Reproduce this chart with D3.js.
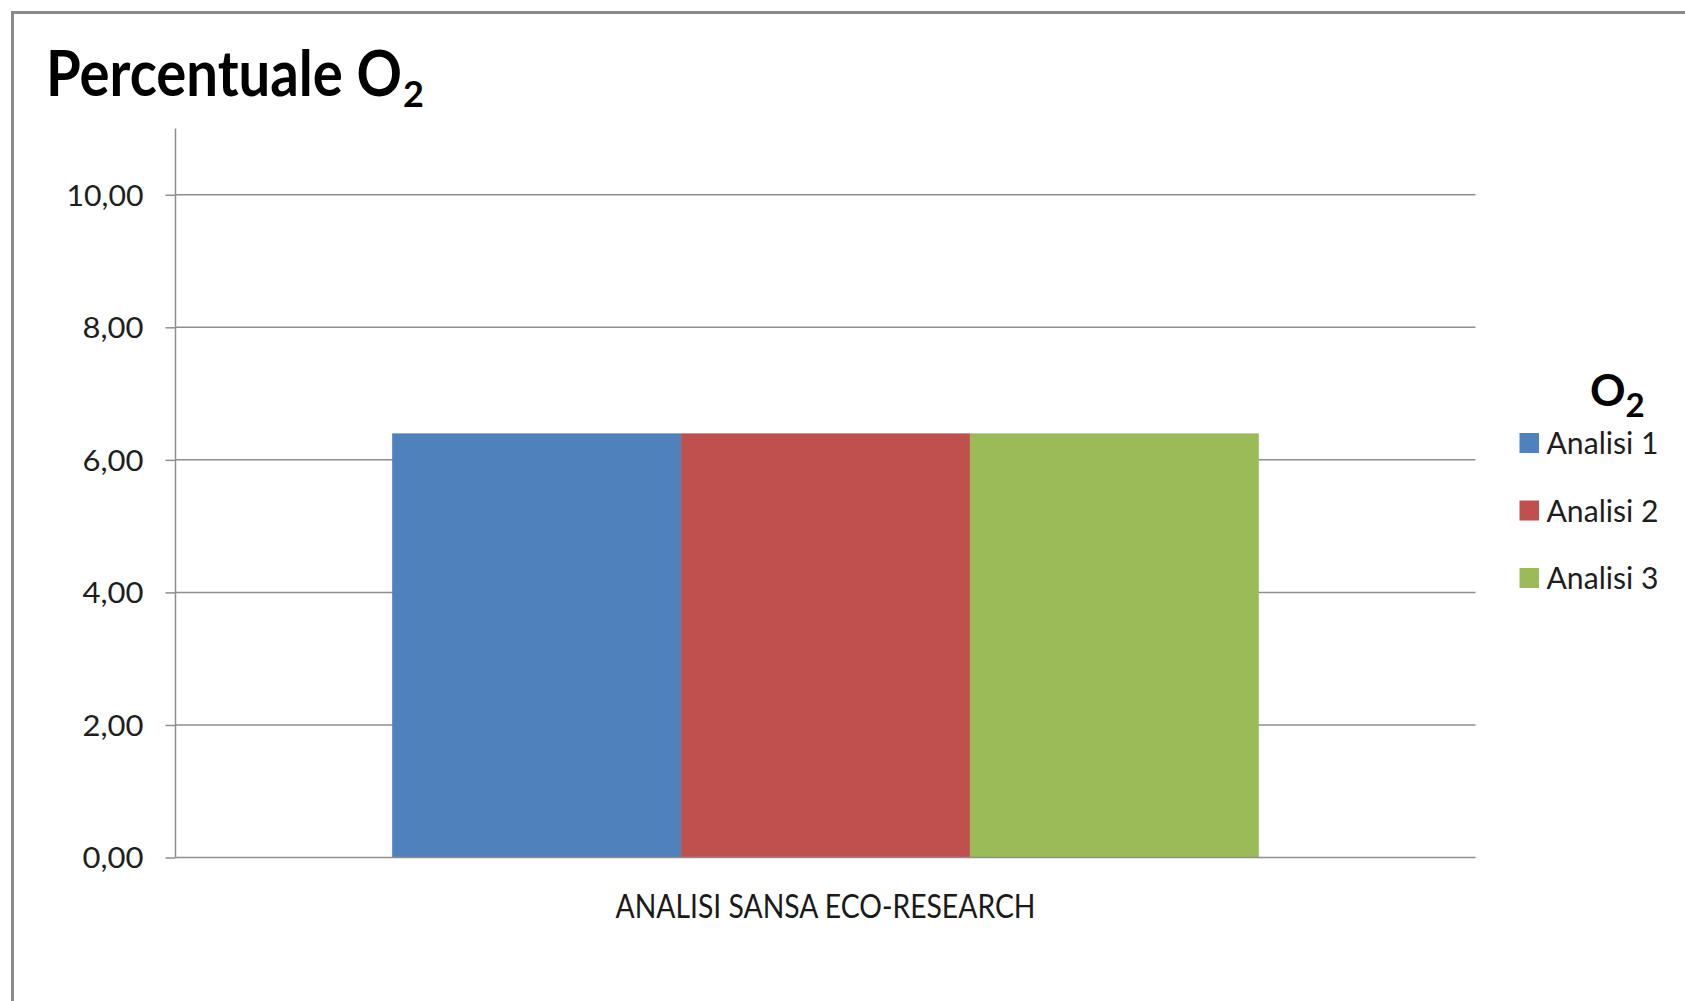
<!DOCTYPE html>
<html>
<head>
<meta charset="utf-8">
<script src="https://cdn.jsdelivr.net/npm/d3@7"></script>
<style>
  html, body { margin: 0; padding: 0; background: #fff; }
  svg { display: block; }
  text { font-family: Lato, "Open Sans", sans-serif; }
</style>
</head>
<body>
<div id="chart"></div>
<script>
// Chart data
const categories = ["ANALISI SANSA ECO-RESEARCH"];
const seriesNames = ["Analisi 1", "Analisi 2", "Analisi 3"];
const seriesValues = [6.40, 6.40, 6.40];
const seriesColors = ["#4F81BD", "#C0504D", "#9BBB59"];
const yTicks = [0, 2, 4, 6, 8, 10];
const yMax = 11;

const W = 1685, H = 1001;
const plot = { left: 175.5, right: 1475.5, top: 128.5, bottom: 857.5 };

const svg = d3.select("#chart").append("svg")
  .attr("width", W).attr("height", H);

// Chart area frame (only the top and left edges fall inside the view)
svg.append("rect")
  .attr("x", 12.5).attr("y", 12.5)
  .attr("width", W + 20).attr("height", H + 20)
  .attr("fill", "#fff").attr("stroke", "#8a8a8a").attr("stroke-width", 3);

const itLocale = d3.formatLocale({ decimal: ",", thousands: ".", grouping: [3], currency: ["", " €"] });
const fmt = itLocale.format(".2f");

const y = d3.scaleLinear().domain([0, yMax]).range([plot.bottom, plot.top]);
const x0 = d3.scaleBand().domain(categories)
  .range([plot.left, plot.right]).paddingInner(0).paddingOuter(0.25);
const x1 = d3.scaleBand().domain(seriesNames).range([0, x0.bandwidth()]).padding(0);

// Horizontal gridlines
svg.append("g").selectAll("line").data(yTicks.filter(d => d > 0)).join("line")
  .attr("x1", plot.left).attr("x2", plot.right)
  .attr("y1", d => y(d)).attr("y2", d => y(d))
  .attr("stroke", "#8e8e8e").attr("stroke-width", 1.5);

// Bars
const g = svg.append("g");
categories.forEach(cat => {
  g.selectAll(null).data(seriesNames.map((s, i) => ({ s, v: seriesValues[i], c: seriesColors[i] })))
    .join("rect")
    .attr("x", d => x0(cat) + x1(d.s))
    .attr("y", d => y(d.v))
    .attr("width", x1.bandwidth())
    .attr("height", d => y(0) - y(d.v))
    .attr("fill", d => d.c);
});

// Value axis
const yAxis = d3.axisLeft(y).tickValues(yTicks).tickSize(10).tickPadding(22).tickFormat(fmt);
const ya = svg.append("g").attr("transform", `translate(${plot.left},0)`).call(yAxis);
ya.select(".domain").remove();
ya.selectAll(".tick line").attr("stroke", "#8e8e8e").attr("stroke-width", 1.5);
ya.selectAll(".tick text")
  .attr("font-family", "Lato, sans-serif").attr("font-size", 29)
  .attr("fill", "#1e1e1e").attr("dy", "0.36em")
  .attr("textLength", d => fmt(d).length === 5 ? 77 : 61)
  .attr("lengthAdjust", "spacingAndGlyphs");
svg.append("line")
  .attr("x1", plot.left).attr("x2", plot.left)
  .attr("y1", y(yMax)).attr("y2", y(0))
  .attr("stroke", "#8e8e8e").attr("stroke-width", 1.5);
svg.append("line")
  .attr("x1", plot.left).attr("x2", plot.right)
  .attr("y1", y(0)).attr("y2", y(0))
  .attr("stroke", "#8e8e8e").attr("stroke-width", 1.5);

// Category axis label
svg.append("g").selectAll("text").data(categories).join("text")
  .attr("x", d => x0(d) + x0.bandwidth() / 2)
  .attr("y", 918)
  .attr("text-anchor", "middle")
  .attr("font-size", 32).attr("font-weight", 400).attr("fill", "#1a1a1a")
  .attr("textLength", 420).attr("lengthAdjust", "spacingAndGlyphs")
  .text(d => d);

// Title
const title = svg.append("text").attr("x", 46).attr("y", 96)
  .attr("font-weight", 700).attr("fill", "#000");
title.append("tspan").attr("font-size", 64)
  .attr("textLength", 356).attr("lengthAdjust", "spacingAndGlyphs")
  .text("Percentuale O");
title.append("tspan").attr("font-size", 36).attr("dx", 1).attr("dy", 11).text("2");

// Legend
const legend = svg.append("g");
const lt = legend.append("text").attr("x", 1590).attr("y", 406)
  .attr("font-weight", 700).attr("fill", "#000");
lt.append("tspan").attr("font-size", 44).text("O");
lt.append("tspan").attr("font-size", 33).attr("dy", 11).text("2");

const items = legend.selectAll("g.item").data(seriesNames).join("g")
  .attr("class", "item")
  .attr("transform", (d, i) => `translate(1519.5, ${443 + i * 67.5})`);
items.append("rect").attr("x", 0).attr("y", -10).attr("width", 19.5).attr("height", 20)
  .attr("fill", (d, i) => seriesColors[i]);
items.append("text").attr("x", 27).attr("y", 11)
  .attr("font-size", 30).attr("fill", "#1e1e1e")
  .attr("textLength", 112).attr("lengthAdjust", "spacingAndGlyphs")
  .text(d => d);
</script>
</body>
</html>
